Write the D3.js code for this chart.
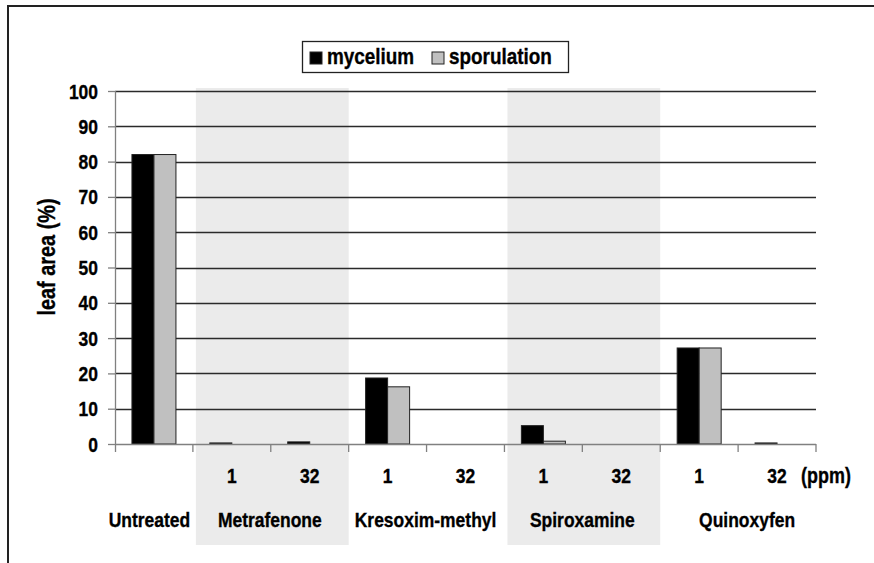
<!DOCTYPE html>
<html>
<head>
<meta charset="utf-8">
<script src="https://cdn.jsdelivr.net/npm/d3@7/dist/d3.min.js"></script>
<style>
  html, body { margin: 0; padding: 0; background: #fff; }
  svg { display: block; }
  text { font-family: "Liberation Sans", Arial, sans-serif; font-weight: bold; fill: #000; stroke: #000; stroke-width: 0.3px; }
</style>
</head>
<body>
<svg id="chart" width="874" height="563"></svg>
<script>
// ---- data ----
const categories = ["U", "M1", "M32", "K1", "K32", "S1", "S32", "Q1", "Q32"];
const doseLabels = ["", "1", "32", "1", "32", "1", "32", "1", "32"];
const groups = ["Untreated", "Metrafenone", "Kresoxim-methyl", "Spiroxamine", "Quinoxyfen"];
const groupMembers = [["U"], ["M1", "M32"], ["K1", "K32"], ["S1", "S32"], ["Q1", "Q32"]];
const shadedGroups = ["Metrafenone", "Spiroxamine"];
const seriesNames = ["mycelium", "sporulation"];
const mycelium =    [82, 0.3, 0.6, 18.7, 0, 5.2, 0, 27.2, 0.3];
const sporulation = [82, 0,   0,   16.2, 0, 0.8, 0, 27.2, 0];
const yTicks = [0, 10, 20, 30, 40, 50, 60, 70, 80, 90, 100];
const yTitle = "leaf area (%)";
const unitLabel = "(ppm)";

const seriesValues = { mycelium, sporulation };
const colors = { mycelium: "#000000", sporulation: "#c0c0c0" };
const groupLabelNudge = [-4.5, -1, -1, 0, 9];

const svg = d3.select("#chart");
const pLeft = 115, pRight = 816, pTop = 91, pBottom = 444;
const SX = 0.97, SY = 1.16; // glyph stretch to mimic the tall bold font

const x = d3.scaleBand().domain(categories).range([pLeft, pRight]).padding(0);
const bw = x.bandwidth();
const barW = 22;
const x1 = d3.scaleBand().domain(seriesNames).range([bw / 2 - barW, bw / 2 + barW]).padding(0);
const y = d3.scaleLinear().domain([0, 100]).range([pBottom, pTop]);

function stretched(parent, tx, ty, str, size, anchor, rot) {
  return parent.append("text")
    .attr("transform", `translate(${tx},${ty})${rot ? ` rotate(${rot})` : ""} scale(${SX},${SY})`)
    .attr("text-anchor", anchor || "start")
    .attr("font-size", size)
    .text(str);
}

// outer frame (top and left edges only visible)
svg.append("path")
  .attr("d", "M8,570 L8,6 L880,6")
  .attr("fill", "none").attr("stroke", "#222").attr("stroke-width", 2);

// shaded groups
groups.forEach((g, i) => {
  if (!shadedGroups.includes(g)) return;
  const mem = groupMembers[i];
  const x0 = x(mem[0]) + 3;
  const xe = x(mem[mem.length - 1]) + bw;
  svg.append("rect")
    .attr("x", x0).attr("y", 88)
    .attr("width", xe - x0).attr("height", 545 - 88)
    .attr("fill", "#ebebeb");
});

// gridlines
svg.append("g").selectAll("line")
  .data(yTicks.filter(d => d > 0))
  .join("line")
  .attr("x1", pLeft).attr("x2", pRight)
  .attr("y1", d => Math.round(y(d)) + 0.5).attr("y2", d => Math.round(y(d)) + 0.5)
  .attr("stroke", "#2a2a2a").attr("stroke-width", 1.3);

// bars
const bars = [];
categories.forEach((c, i) => {
  seriesNames.forEach(s => bars.push({ c, s, v: seriesValues[s][i] }));
});
svg.append("g").selectAll("rect")
  .data(bars.filter(d => d.v > 0))
  .join("rect")
  .attr("x", d => x(d.c) + x1(d.s))
  .attr("y", d => y(d.v))
  .attr("width", x1.bandwidth())
  .attr("height", d => pBottom - y(d.v))
  .attr("fill", d => colors[d.s])
  .attr("stroke", "#222").attr("stroke-width", 1);

// y axis
const yAxis = d3.axisLeft(y).tickValues(yTicks).tickSize(7).tickFormat("");
const gy = svg.append("g").attr("transform", `translate(${pLeft},0)`).call(yAxis);
gy.select(".domain").remove();
gy.selectAll(".tick line").attr("stroke", "#808080").attr("stroke-width", 1.3);
gy.selectAll(".tick text").remove();
gy.selectAll(".tick").each(function (d) {
  stretched(d3.select(this), -17, 7, String(d), 18, "end");
});
svg.append("line").attr("x1", pLeft + 0.5).attr("x2", pLeft + 0.5).attr("y1", pTop).attr("y2", 452)
  .attr("stroke", "#808080").attr("stroke-width", 1.3);

// x axis baseline & ticks
svg.append("line").attr("x1", pLeft).attr("x2", pRight).attr("y1", pBottom + 0.5).attr("y2", pBottom + 0.5)
  .attr("stroke", "#808080").attr("stroke-width", 1.3);
const boundaries = categories.map(c => x(c) + bw);
svg.append("g").selectAll("line").data(boundaries).join("line")
  .attr("x1", d => d).attr("x2", d => d)
  .attr("y1", pBottom).attr("y2", 452)
  .attr("stroke", "#808080").attr("stroke-width", 1.3);

// dose labels
const gd = svg.append("g");
categories.forEach((c, i) => {
  if (doseLabels[i]) stretched(gd, x(c) + bw / 2, 483, doseLabels[i], 18, "middle");
});
stretched(svg, 826, 483, unitLabel, 18.5, "middle");

// group labels
const gg = svg.append("g");
groups.forEach((g, i) => {
  const mem = groupMembers[i];
  const cx = (x(mem[0]) + x(mem[mem.length - 1]) + bw) / 2 + groupLabelNudge[i];
  stretched(gg, cx, 527, g, 18, "middle");
});

// y title
stretched(svg, 55, 257, yTitle, 20.5, "middle", -90);

// legend
const lg = svg.append("g");
lg.append("rect").attr("x", 302.5).attr("y", 41.5).attr("width", 266).attr("height", 31)
  .attr("fill", "#fff").attr("stroke", "#222").attr("stroke-width", 1.3);
const legendItems = [
  { s: "mycelium", sx: 310, tx: 327 },
  { s: "sporulation", sx: 432, tx: 449 }
];
legendItems.forEach(d => {
  lg.append("rect").attr("x", d.sx).attr("y", 52).attr("width", 12).attr("height", 12)
    .attr("fill", colors[d.s]).attr("stroke", "#222").attr("stroke-width", 1);
  stretched(lg, d.tx, 64, d.s, 19.5, "start");
});
</script>
</body>
</html>
